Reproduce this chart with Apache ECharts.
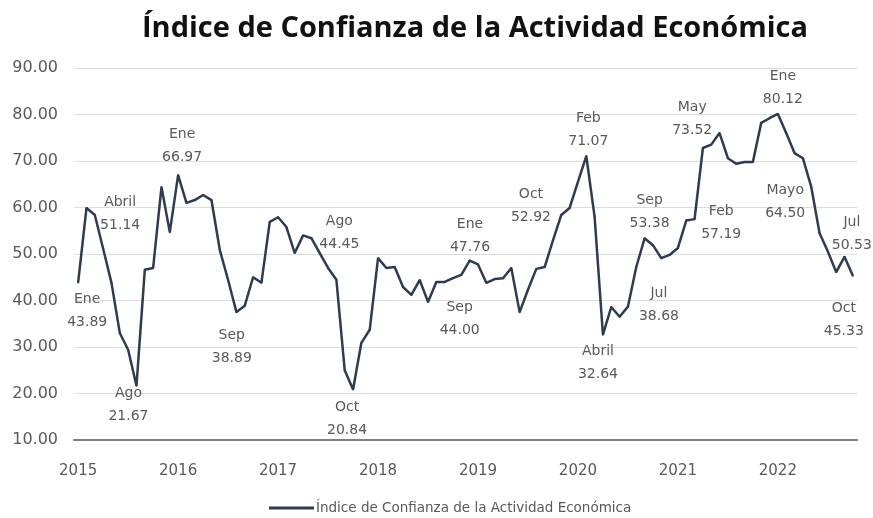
<!DOCTYPE html>
<html>
<head>
<meta charset="utf-8">
<script src="https://cdn.jsdelivr.net/npm/echarts@6/dist/echarts.min.js"></script>
<style>
  html, body { margin: 0; padding: 0; background: #ffffff; }
  #chart { width: 873px; height: 518px; }
</style>
</head>
<body>
<div id="chart"></div>
<script>
// Monthly index, January 2015 through October 2022
const years = ['2015', '2016', '2017', '2018', '2019', '2020', '2021', '2022'];
const monthAbbr = ['Ene', 'Feb', 'Mar', 'Abr', 'May', 'Jun', 'Jul', 'Ago', 'Sep', 'Oct', 'Nov', 'Dic'];

const values2015 = [43.89, 59.9, 58.4, 51.14, 43.8, 33.0, 29.4, 21.67, 46.6, 47.0, 64.4, 54.7];
const values2016 = [66.97, 61.0, 61.6, 62.7, 61.6, 50.9, 44.4, 37.5, 38.89, 45.0, 43.8, 56.9];
const values2017 = [57.9, 55.8, 50.2, 54.0, 53.4, 50.2, 47.0, 44.45, 25.0, 20.84, 30.9, 33.7];
const values2018 = [49.1, 47.0, 47.2, 42.9, 41.2, 44.4, 39.7, 44.0, 44.00, 44.8, 45.5, 48.6];
const values2019 = [47.76, 43.8, 44.6, 44.8, 47.0, 37.5, 42.3, 46.8, 47.2, 52.92, 58.4, 59.9];
const values2020 = [65.5, 71.07, 58.0, 32.64, 38.6, 36.5, 38.68, 47.2, 53.38, 51.9, 49.1, 49.8];
const values2021 = [51.3, 57.19, 57.5, 72.8, 73.52, 76.0, 70.6, 69.4, 69.8, 69.8, 78.2, 79.2];
const values2022 = [80.12, 76.0, 71.7, 70.6, 64.50, 54.5, 50.53, 46.1, 49.4, 45.33];

// Points that carry a month/value annotation (index into the monthly series)
const annotatedIndex = [0, 3, 7, 12, 20, 31, 33, 44, 48, 57, 61, 63, 66, 68, 73, 76, 84, 88, 90, 93];
const annotatedName  = ['Ene', 'Abril', 'Ago', 'Ene', 'Sep', 'Ago', 'Oct', 'Sep', 'Ene', 'Oct',
                        'Feb', 'Abril', 'Jul', 'Sep', 'Feb', 'May', 'Ene', 'Mayo', 'Jul', 'Oct'];

const seriesName = 'Índice de Confianza de la Actividad Económica';
const yTicks = [10, 20, 30, 40, 50, 60, 70, 80, 90];

// Annotation placement: offset of each text block's centre from its point, in pixels
const labelOffsets = [[9, 28], [17, -35], [-8, 19], [4, -29], [-13, 41], [3, -47], [-6, 29],
                      [15, 37], [-8, -29], [-22, -35], [2, -26], [-5, 28], [31, -2], [5, -26],
                      [35, 2], [-19, -26], [5, -26], [-26, 15], [24, -18], [-9, 44]];

const values = [].concat(values2015, values2016, values2017, values2018,
                         values2019, values2020, values2021, values2022);
const categories = values.map((v, i) => monthAbbr[i % 12] + ' ' + years[Math.floor(i / 12)]);

const textGray = '#595959';
const lineColor = '#2f3b4f';
const fontFam = '"DejaVu Sans", sans-serif';
const symbolSize = 2;

const seriesData = values.map((v, i) => {
  const k = annotatedIndex.indexOf(i);
  if (k < 0) return v;
  const off = labelOffsets[k];
  return {
    value: v,
    label: {
      show: true,
      // position is measured from the symbol's top-left corner
      position: [off[0] + symbolSize / 2, off[1] + symbolSize / 2],
      align: 'center',
      verticalAlign: 'middle',
      formatter: annotatedName[k] + '\n' + v.toFixed(2),
      color: textGray,
      fontSize: 14,
      lineHeight: 23,
      fontFamily: fontFam
    }
  };
});

const chart = echarts.init(document.getElementById('chart'), null, { renderer: 'canvas' });
chart.setOption({
  backgroundColor: '#ffffff',
  animation: false,
  title: {
    text: seriesName,
    left: 470,
    textAlign: 'center',
    top: 9,
    textStyle: { fontSize: 29, fontWeight: 'bold', color: '#111111', fontFamily: '"Open Sans", sans-serif' }
  },
  legend: {
    bottom: -2,
    left: 264,
    itemWidth: 45,
    itemHeight: 3,
    itemGap: 2,
    icon: 'rect',
    data: [seriesName],
    textStyle: { color: textGray, fontSize: 13.5, fontFamily: fontFam, padding: [0, 0, 0, -3] }
  },
  grid: { left: 74, right: 16, top: 68, bottom: 78, containLabel: false },
  xAxis: {
    type: 'category',
    data: categories,
    boundaryGap: true,
    axisLine: { show: true, lineStyle: { color: '#7f7f7f', width: 2 } },
    axisTick: { show: false },
    axisLabel: {
      interval: (i) => i % 12 === 0,
      formatter: (val, i) => years[Math.floor(i / 12)],
      color: textGray,
      fontSize: 15,
      margin: 24,
      fontFamily: fontFam
    },
    splitLine: { show: false }
  },
  yAxis: {
    type: 'value',
    min: yTicks[0],
    max: yTicks[yTicks.length - 1],
    interval: 10,
    axisLine: { show: false },
    axisTick: { show: false },
    axisLabel: {
      formatter: (v) => v.toFixed(2),
      color: textGray,
      fontSize: 16,
      margin: 16,
      fontFamily: fontFam
    },
    splitLine: { lineStyle: { color: '#dcdcdc', width: 1 } }
  },
  series: [{
    name: seriesName,
    type: 'line',
    data: seriesData,
    symbol: 'circle',
    symbolSize: symbolSize,
    showSymbol: true,
    showAllSymbol: true,
    itemStyle: { color: lineColor },
    lineStyle: { color: lineColor, width: 2.5 },
    label: { show: false },
    z: 3
  }]
});
</script>
</body>
</html>
